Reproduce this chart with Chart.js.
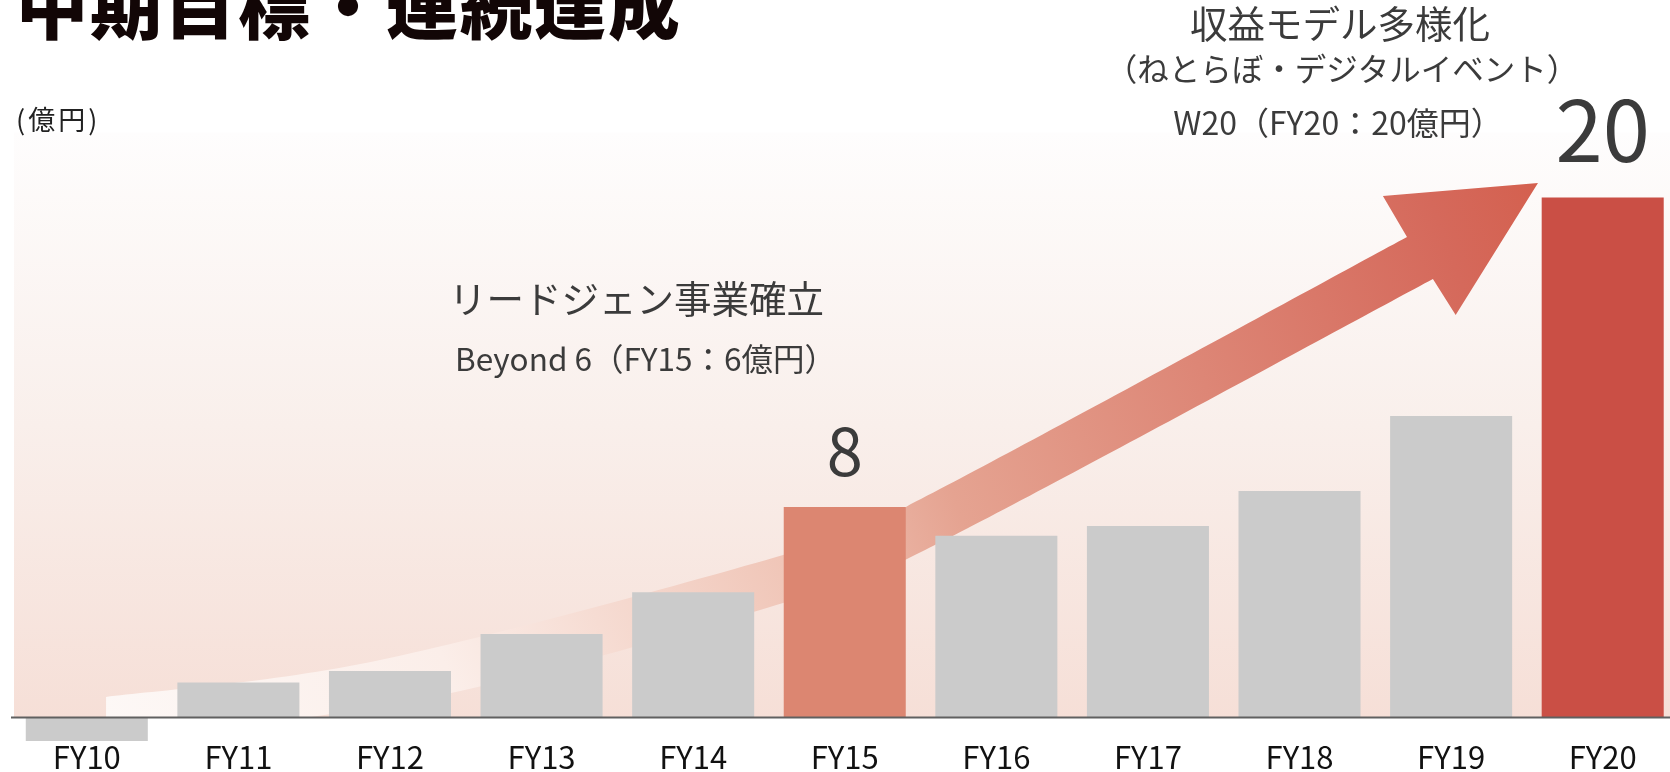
<!DOCTYPE html>
<html lang="ja">
<head>
<meta charset="utf-8">
<script src="https://cdn.jsdelivr.net/npm/chart.js@4.4.1/dist/chart.umd.min.js"></script>
<style>
    html, body { margin: 0; padding: 0; background: #fff; overflow: hidden; }
    #wrap { position: relative; width: 1690px; height: 772px; }
</style>
</head>
<body>
<div id="wrap"><canvas id="salesChart" width="1690" height="772"></canvas></div>
<script>
// 売上推移（億円）
const fiscalYears = ['FY10', 'FY11', 'FY12', 'FY13', 'FY14', 'FY15', 'FY16', 'FY17', 'FY18', 'FY19', 'FY20'];
const salesValues = [-0.9, 1.35, 1.79, 3.21, 4.82, 8.1, 6.99, 7.37, 8.71, 11.6, 20.0];
const valueLabels = ['', '', '', '', '', '8', '', '', '', '', '20'];
const barColors = ['#cbcbcb', '#cbcbcb', '#cbcbcb', '#cbcbcb', '#cbcbcb', '#dc8671',
                   '#cbcbcb', '#cbcbcb', '#cbcbcb', '#cbcbcb', '#ca4f45'];
const yMin = -1;
const yMax = 22;

// decorative arrow, in (category index, value) units
const arrowUpper = [[0.127, 0.79], [1.935, 2.21], [4.593, 6.25], [5.404, 8.10], [8.709, 18.48]];
const arrowLower = [[8.88, 16.87], [5.53, 6.44], [4.593, 4.40], [2.403, 0.94], [0.127, -1.06]];
const arrowHead = [[8.55, 20.06], [9.573, 20.56], [9.03, 15.48]];

const CJK = '"Noto Sans CJK JP", "Noto Sans", sans-serif';
const TEXT_COLOR = '#3b3b3b';

function traceSpline(ctx, pts) {
    for (let i = 0; i < pts.length - 1; i++) {
        const p0 = pts[i - 1] || pts[i];
        const p1 = pts[i];
        const p2 = pts[i + 1];
        const p3 = pts[i + 2] || p2;
        ctx.bezierCurveTo(
            p1[0] + (p2[0] - p0[0]) / 6, p1[1] + (p2[1] - p0[1]) / 6,
            p2[0] - (p3[0] - p1[0]) / 6, p2[1] - (p3[1] - p1[1]) / 6,
            p2[0], p2[1]
        );
    }
}

const backdropPlugin = {
    id: 'backdrop',
    beforeDraw(chart) {
        const { ctx, chartArea, scales: { x, y } } = chart;
        const base = y.getPixelForValue(0);
        const top = y.getPixelForValue(22.5);
        const left = chartArea.left + 3;
        const right = chart.width;

        ctx.save();
        const bg = ctx.createLinearGradient(0, top, 0, base);
        bg.addColorStop(0, '#fefdfd');
        bg.addColorStop(0.5, '#f9efeb');
        bg.addColorStop(1, '#f6dfd7');
        ctx.fillStyle = bg;
        ctx.fillRect(left, top, right - left, base - top);

        // arrow, clipped to the plot backdrop
        ctx.beginPath();
        ctx.rect(left, top, right - left, base - top);
        ctx.clip();

        const px = p => [x.getPixelForValue(p[0]), y.getPixelForValue(p[1])];
        const up = arrowUpper.map(px);
        const low = arrowLower.map(px);
        const head = arrowHead.map(px);

        const tail = up[0];
        const tip = head[1];
        const grad = ctx.createLinearGradient(tail[0], base, tip[0], tip[1]);
        grad.addColorStop(0, '#fdf8f6');
        grad.addColorStop(0.22, '#fbeee9');
        grad.addColorStop(0.45, '#f0c6b8');
        grad.addColorStop(0.57, '#e5a391');
        grad.addColorStop(0.93, '#d5695b');
        grad.addColorStop(1, '#d4604f');

        ctx.beginPath();
        ctx.moveTo(up[0][0], up[0][1]);
        traceSpline(ctx, up);
        head.forEach(p => ctx.lineTo(p[0], p[1]));
        ctx.lineTo(low[0][0], low[0][1]);
        traceSpline(ctx, low);
        ctx.closePath();
        ctx.fillStyle = grad;
        ctx.fill();
        ctx.restore();
    }
};

const overlayPlugin = {
    id: 'overlay',
    afterDatasetsDraw(chart) {
        const { ctx, chartArea, scales: { y } } = chart;
        const base = y.getPixelForValue(0);

        ctx.save();
        // zero line
        ctx.strokeStyle = '#606060';
        ctx.lineWidth = 2;
        ctx.beginPath();
        ctx.moveTo(chartArea.left, base);
        ctx.lineTo(chart.width, base);
        ctx.stroke();

        // value labels above highlighted bars
        const meta = chart.getDatasetMeta(0);
        ctx.fillStyle = TEXT_COLOR;
        ctx.textAlign = 'center';
        ctx.textBaseline = 'middle';
        valueLabels.forEach((label, i) => {
            if (!label) return;
            const bar = meta.data[i];
            const size = label.length > 1 ? 85 : 65;
            const gap = label.length > 1 ? 37 : 32;
            ctx.font = `${size}px ${CJK}`;
            ctx.fillText(label, bar.x, bar.y - gap - size * 0.366);
        });

        // annotations
        ctx.font = `37.5px ${CJK}`;
        ctx.fillText('収益モデル多様化', 1340, 24);
        ctx.font = `31.5px ${CJK}`;
        ctx.fillText('（ねとらぼ・デジタルイベント）', 1342, 69);
        ctx.font = `32px ${CJK}`;
        ctx.fillText('W20（FY20：20億円）', 1338, 123);

        ctx.textAlign = 'left';
        ctx.font = `37.5px ${CJK}`;
        ctx.fillText('リードジェン事業確立', 449, 299);
        ctx.font = `31.5px ${CJK}`;
        ctx.fillText('Beyond 6（FY15：6億円）', 455, 359);

        ctx.fillStyle = '#222';
        ctx.font = `27px ${CJK}`;
        ctx.letterSpacing = '3px';
        ctx.fillText('(億円)', 16, 120);

        // title
        ctx.fillStyle = '#120606';
        ctx.font = `900 72px ${CJK}`;
        ctx.letterSpacing = '2px';
        ctx.fillText('中期目標・連続達成', 16, 6);
        ctx.restore();
    }
};

const canvas = document.getElementById('salesChart');
new Chart(canvas, {
    type: 'bar',
    data: {
        labels: fiscalYears,
        datasets: [{
            data: salesValues,
            backgroundColor: barColors,
            borderWidth: 0,
            barPercentage: 0.805,
            categoryPercentage: 1.0
        }]
    },
    options: {
        responsive: false,
        animation: false,
        layout: { padding: { left: 11, right: 11.5, top: 145.5, bottom: 0 } },
        plugins: {
            legend: { display: false },
            tooltip: { enabled: false }
        },
        scales: {
            x: {
                grid: { display: false, drawTicks: false },
                border: { display: false },
                ticks: {
                    color: '#111',
                    padding: -5,
                    font: { family: CJK, size: 31 }
                },
                afterFit: scale => { scale.height = 28.5; }
            },
            y: {
                display: false,
                min: yMin,
                max: yMax
            }
        }
    },
    plugins: [backdropPlugin, overlayPlugin]
});
</script>
</body>
</html>
